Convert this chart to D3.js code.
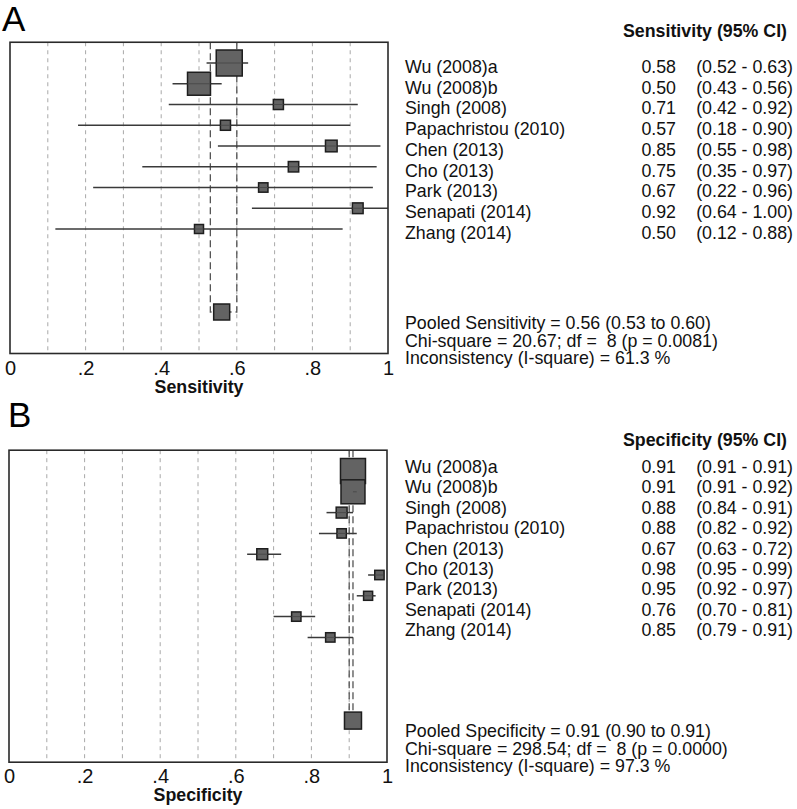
<!DOCTYPE html>
<html>
<head>
<meta charset="utf-8">
<script src="https://cdn.jsdelivr.net/npm/d3@7"></script>
<style>
  html, body { margin: 0; padding: 0; background: #fff; }
  svg { display: block; font-family: "Liberation Sans", Arial, sans-serif; }
  text { white-space: pre; }
</style>
</head>
<body>
<svg id="chart" width="797" height="809"></svg>
<script>
// ---------------- data ----------------
const studies = ["Wu (2008)a", "Wu (2008)b", "Singh (2008)", "Papachristou (2010)", "Chen (2013)",
                 "Cho (2013)", "Park (2013)", "Senapati (2014)", "Zhang (2014)"];

const sensEst = [0.58, 0.50, 0.71, 0.57, 0.85, 0.75, 0.67, 0.92, 0.50];
const sensLow = [0.52, 0.43, 0.42, 0.18, 0.55, 0.35, 0.22, 0.64, 0.12];
const sensHigh = [0.63, 0.56, 0.92, 0.90, 0.98, 0.97, 0.96, 1.00, 0.88];
const sensWeight = [100, 78, 15, 15, 20, 16, 13, 17, 12];
const sensPooled = [0.56, 0.53, 0.60];
const sensStats = ["Pooled Sensitivity = 0.56 (0.53 to 0.60)",
                   "Chi-square = 20.67; df =  8 (p = 0.0081)",
                   "Inconsistency (I-square) = 61.3 %"];

const specEst = [0.91, 0.91, 0.88, 0.88, 0.67, 0.98, 0.95, 0.76, 0.85];
const specLow = [0.91, 0.91, 0.84, 0.82, 0.63, 0.95, 0.92, 0.70, 0.79];
const specHigh = [0.91, 0.92, 0.91, 0.92, 0.72, 0.99, 0.97, 0.81, 0.91];
const specWeight = [100, 92, 19, 14, 19, 14, 13, 14, 14];
const specPooled = [0.91, 0.90, 0.91];
const specStats = ["Pooled Specificity = 0.91 (0.90 to 0.91)",
                   "Chi-square = 298.54; df =  8 (p = 0.0000)",
                   "Inconsistency (I-square) = 97.3 %"];

const tickValues = [0, 0.2, 0.4, 0.6, 0.8, 1];
const tickLabels = ["0", ".2", ".4", ".6", ".8", "1"];

// ---------------- drawing ----------------
const svg = d3.select("#chart");
const fmt = d3.format(".2f");

function panel(cfg) {
  const g = svg.append("g");
  const x = d3.scaleLinear().domain([0, 1]).range(cfg.xRange);
  const y = d3.scaleLinear().domain([0, 1]).range([cfg.row0, cfg.row0 + cfg.rowStep]);
  const side = d3.scaleSqrt().domain([0, 100]).range([0, cfg.maxSide]);
  const top = y(-1), bottom = y(14), pooledRow = 12;

  // panel letter
  g.append("text").attr("x", cfg.letterX).attr("y", cfg.letterY)
    .attr("font-size", 35).attr("fill", "#000").text(cfg.letter);

  // grid
  g.selectAll(".grid").data(x.ticks(10).filter(d => d > 0 && d < 1)).join("line")
    .attr("x1", d => x(d)).attr("x2", d => x(d))
    .attr("y1", top).attr("y2", bottom)
    .attr("stroke", "#a8a8a8").attr("stroke-width", 1).attr("stroke-dasharray", "4,4");

  // pooled CI guide lines
  const pS = cfg.pooledSide;
  const py = y(pooledRow);
  [[cfg.pooled[1], x(cfg.pooled[0]) - pS / 2], [cfg.pooled[2], x(cfg.pooled[0]) + pS / 2]].forEach(([v, edge]) => {
    g.append("path")
      .attr("d", `M${x(v)},${top} L${x(v)},${py} L${edge},${py}`)
      .attr("fill", "none").attr("stroke", "#555").attr("stroke-width", 1.3)
      .attr("stroke-dasharray", "7,4");
  });

  // study CI lines
  const rows = cfg.est.map((e, i) => ({ e, lo: cfg.low[i], hi: cfg.high[i], w: cfg.weight[i], i }));
  g.selectAll(".ci").data(rows).join("line")
    .attr("x1", d => x(d.lo)).attr("x2", d => x(d.hi))
    .attr("y1", d => y(d.i)).attr("y2", d => y(d.i))
    .attr("stroke", "#3a3a3a").attr("stroke-width", 1.5);

  // squares
  g.selectAll(".sq").data(rows).join("rect")
    .attr("x", d => x(d.e) - side(d.w) / 2).attr("y", d => y(d.i) - side(d.w) / 2)
    .attr("width", d => side(d.w)).attr("height", d => side(d.w))
    .attr("fill", "#636363").attr("stroke", "#1e1e1e").attr("stroke-width", 1.5);

  // CI line visible through squares
  g.selectAll(".ci2").data(rows).join("line")
    .attr("x1", d => Math.max(x(d.lo), x(d.e) - side(d.w) / 2))
    .attr("x2", d => Math.min(x(d.hi), x(d.e) + side(d.w) / 2))
    .attr("y1", d => y(d.i)).attr("y2", d => y(d.i))
    .attr("stroke", "#4a4a4a").attr("stroke-width", 1);

  // pooled square
  g.append("rect")
    .attr("x", x(cfg.pooled[0]) - pS / 2).attr("y", py - pS / 2)
    .attr("width", pS).attr("height", pS)
    .attr("fill", "#636363").attr("stroke", "#1e1e1e").attr("stroke-width", 1.5);

  // frame
  g.append("rect")
    .attr("x", x(0)).attr("y", top)
    .attr("width", x(1) - x(0)).attr("height", bottom - top)
    .attr("fill", "none").attr("stroke", "#2a2a2a").attr("stroke-width", 1.6);

  // axis
  const axis = d3.axisBottom(x).tickValues(tickValues)
    .tickFormat((d, i) => tickLabels[i]).tickSize(0).tickPadding(0);
  const ag = g.append("g").attr("transform", `translate(0,${bottom})`).call(axis);
  ag.select(".domain").remove();
  ag.selectAll("text").attr("font-size", 20).attr("fill", "#111")
    .attr("font-family", "Liberation Sans, Arial, sans-serif")
    .attr("dy", null).attr("y", cfg.tickBaseline - bottom);

  g.append("text").attr("x", (x(0) + x(1)) / 2).attr("y", cfg.titleBaseline)
    .attr("text-anchor", "middle").attr("font-size", 17.8).attr("font-weight", "bold")
    .attr("fill", "#111").text(cfg.title);

  // right-side table
  const fs = 17.8;
  g.append("text").attr("x", 623).attr("y", cfg.headerBaseline)
    .attr("font-size", fs).attr("font-weight", "bold").attr("fill", "#111")
    .text(cfg.header);
  const tb = i => cfg.textRow0 + i * cfg.textStep;
  g.selectAll(".lab").data(rows).join("text")
    .attr("x", 405).attr("y", d => tb(d.i)).attr("font-size", fs).attr("fill", "#111")
    .text(d => studies[d.i]);
  g.selectAll(".val").data(rows).join("text")
    .attr("x", 676).attr("y", d => tb(d.i)).attr("font-size", fs).attr("fill", "#111")
    .attr("text-anchor", "end").text(d => fmt(d.e));
  g.selectAll(".cil").data(rows).join("text")
    .attr("x", 793).attr("y", d => tb(d.i)).attr("font-size", fs).attr("fill", "#111")
    .attr("text-anchor", "end").text(d => `(${fmt(d.lo)} - ${fmt(d.hi)})`);
  g.selectAll(".stat").data(cfg.stats).join("text")
    .attr("x", 405).attr("y", (d, i) => cfg.statBaseline + i * 17.5)
    .attr("font-size", fs).attr("fill", "#111").text(d => d);
}

panel({
  letter: "A", letterX: 2, letterY: 31,
  xRange: [10, 388], row0: 63, rowStep: 20.75, maxSide: 26, pooledSide: 16,
  est: sensEst, low: sensLow, high: sensHigh, weight: sensWeight, pooled: sensPooled,
  stats: sensStats, title: "Sensitivity", header: "Sensitivity (95% CI)",
  tickBaseline: 375, titleBaseline: 393, headerBaseline: 37,
  textRow0: 73, textStep: 20.7, statBaseline: 329
});

panel({
  letter: "B", letterX: 8, letterY: 427,
  xRange: [9, 387], row0: 471, rowStep: 20.8, maxSide: 25, pooledSide: 17,
  est: specEst, low: specLow, high: specHigh, weight: specWeight, pooled: specPooled,
  stats: specStats, title: "Specificity", header: "Specificity (95% CI)",
  tickBaseline: 783, titleBaseline: 801, headerBaseline: 446,
  textRow0: 473, textStep: 20.4, statBaseline: 737
});
</script>
</body>
</html>
